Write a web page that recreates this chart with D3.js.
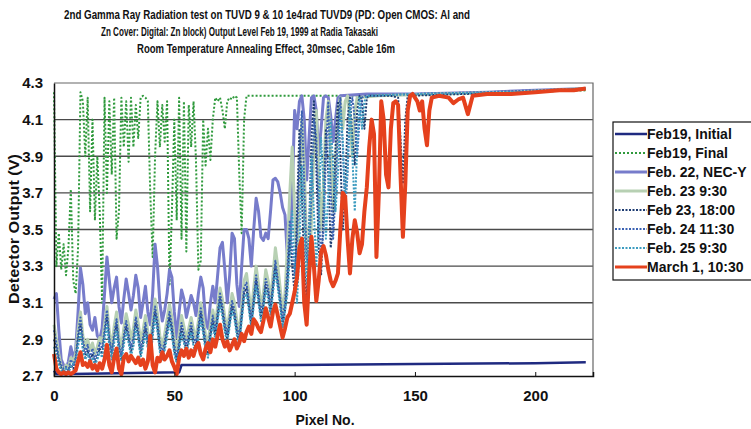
<!DOCTYPE html>
<html>
<head>
<meta charset="utf-8">
<script src="https://cdn.jsdelivr.net/npm/d3@7"></script>
<style>
  body { margin: 0; background: #fff; }
  svg text { font-family: "Liberation Sans", Arial, sans-serif; fill: #111; }
</style>
</head>
<body>
<svg id="chart" width="751" height="429"></svg>
<script>
// chart text
var titleLines = [
    "2nd Gamma Ray Radiation test on TUVD 9 & 10 1e4rad TUVD9 (PD: Open CMOS: Al and",
    "Zn Cover: Digital: Zn block) Output Level Feb 19, 1999 at Radia Takasaki",
    "Room Temperature Annealing Effect, 30msec, Cable 16m"
];
var xTicks = [0, 50, 100, 150, 200];
var yTicks = [2.7, 2.9, 3.1, 3.3, 3.5, 3.7, 3.9, 4.1, 4.3];
var seriesNames = ["Feb19, Initial", "Feb19, Final", "Feb. 22, NEC-Y", "Feb. 23 9:30",
    "Feb 23, 18:00", "Feb. 24 11:30", "Feb. 25 9:30", "March 1, 10:30"];

// dense values start at pixel 0, one per pixel; tails are [pixel, volts]
var initialDense = [2.73, 2.71];
var initialTail = [[52, 2.72], [53, 2.76], [100, 2.76], [150, 2.765], [200, 2.77], [221, 2.775]];

var finalDense = [
    4.25, 3.30, 3.48, 3.28, 3.42, 3.25, 3.40, 3.72, 3.22, 3.15,
    3.40, 4.25, 4.20, 3.90, 4.22, 3.60, 4.10, 3.55, 3.90, 3.60,
    3.10, 4.22, 3.70, 4.20, 3.80, 4.22, 3.45, 3.60, 4.22, 3.95,
    4.20, 3.87, 4.22, 3.95, 4.18, 4.00, 4.22, 4.23, 4.22, 4.20,
    3.70, 3.35, 3.90, 4.20, 3.95, 4.18, 3.98, 4.20, 3.20, 3.60,
    4.10, 3.55, 4.22, 3.45, 4.20, 3.38, 4.18, 3.95, 4.20, 3.88,
    3.28, 3.33, 4.10, 3.85, 4.05, 3.88, 4.10, 4.22, 4.20, 4.22,
    4.15, 4.05, 4.20, 4.22, 4.21, 4.23, 4.22, 3.80, 3.48, 4.10, 4.23
];
var finalTail = [[90, 4.23], [120, 4.23], [160, 4.24], [221, 4.26]];

var feb22Dense = [
    3.12, 3.15, 2.95, 2.79, 2.76, 2.74, 2.78, 2.86, 2.80, 2.84,
    3.05, 3.29, 3.20, 3.04, 3.10, 2.98, 2.95, 3.02, 2.92, 2.90,
    2.96, 3.15, 3.35, 3.22, 3.10, 3.18, 3.24, 3.08, 2.99, 3.12,
    3.23, 3.15, 3.06, 3.14, 3.25, 3.18, 3.02, 3.10, 3.19, 3.05,
    2.98, 3.15, 3.42, 3.30, 3.10, 3.00, 3.06, 3.15, 3.28, 3.24,
    3.05, 2.91, 3.05, 3.17, 3.12, 3.02, 3.08, 3.14, 3.10, 3.03,
    3.15, 3.24, 3.18, 3.00, 2.96, 3.10, 3.19, 3.10, 3.25, 3.40,
    3.43, 3.28, 3.10, 3.25, 3.48, 3.45, 3.20, 3.08, 3.30, 3.50,
    3.50, 3.45, 3.30, 3.50, 3.67, 3.60, 3.46, 3.44, 3.48, 3.45,
    3.60, 3.77, 3.78, 3.76, 3.70, 3.62, 3.58, 3.35, 3.40, 3.70,
    4.15, 4.05, 4.20, 4.23, 4.10, 3.77, 4.00, 4.22, 4.23, 4.15,
    3.91, 4.05, 4.22, 4.23, 4.22, 4.12, 3.98, 4.10, 4.22, 4.23
];
var feb22Tail = [[130, 4.24], [150, 4.24], [180, 4.25], [200, 4.26], [221, 4.27]];

var feb23amDense = [
    2.98, 2.90, 2.82, 2.75, 2.73, 2.76, 2.74, 2.80, 2.78, 2.82,
    2.95, 3.05, 2.92, 2.86, 2.90, 2.84, 2.88, 2.82, 2.86, 2.91,
    2.88, 2.98, 3.08, 2.94, 2.86, 2.97, 3.05, 2.92, 2.85, 2.96,
    3.04, 2.98, 2.90, 2.96, 3.06, 2.99, 2.89, 2.95, 3.03, 2.94,
    2.88, 3.00, 3.12, 3.04, 2.92, 2.86, 2.93, 3.01, 3.09, 3.02,
    2.90, 2.84, 2.93, 3.03, 2.97, 2.90, 2.96, 3.02, 2.95, 2.91,
    3.00, 3.10, 3.02, 2.92, 2.88, 2.98, 3.06, 2.98, 3.08, 3.18,
    3.12, 3.02, 2.95, 3.05, 3.15, 3.10, 3.00, 2.94, 3.08, 3.22,
    3.26, 3.15, 3.05, 3.18, 3.30, 3.20, 3.08, 3.15, 3.28, 3.22,
    3.12, 3.25, 3.40, 3.30, 3.18, 3.05, 3.15, 3.40, 3.70, 3.95,
    3.60, 3.30, 3.75, 4.10, 3.85, 3.40, 3.20, 3.55, 3.95, 4.15,
    3.80, 3.50, 3.75, 4.10, 4.20, 3.90, 3.60, 3.85, 4.15, 4.22,
    4.05, 4.20, 4.23, 4.10, 3.90, 4.15, 4.22
];
var feb23amTail = [[135, 4.23], [160, 4.24], [190, 4.25], [221, 4.27]];

var feb23pmDense = [
    2.90, 2.85, 2.78, 2.74, 2.72, 2.73, 2.72, 2.76, 2.74, 2.78,
    2.90, 2.98, 2.86, 2.80, 2.84, 2.78, 2.82, 2.77, 2.80, 2.85,
    2.82, 2.92, 3.02, 2.88, 2.80, 2.90, 2.98, 2.85, 2.79, 2.89,
    2.97, 2.90, 2.83, 2.88, 2.99, 2.92, 2.82, 2.88, 2.96, 2.87,
    2.80, 2.94, 3.05, 2.97, 2.85, 2.80, 2.86, 2.94, 3.02, 2.95,
    2.84, 2.78, 2.86, 2.96, 2.90, 2.84, 2.90, 2.96, 2.88, 2.85,
    2.94, 3.04, 2.95, 2.86, 2.82, 2.92, 3.00, 2.92, 3.02, 3.12,
    3.05, 2.96, 2.90, 2.99, 3.08, 3.03, 2.94, 2.88, 3.02, 3.15,
    3.18, 3.08, 2.98, 3.10, 3.22, 3.12, 3.02, 3.08, 3.20, 3.15,
    3.05, 3.18, 3.30, 3.20, 3.10, 2.98, 3.06, 3.20, 3.45, 3.30,
    3.15, 3.60, 4.05, 3.70, 3.30, 3.10, 3.50, 4.00, 4.20, 3.85,
    3.40, 3.25, 3.60, 4.05, 3.80, 3.40, 3.55, 3.95, 4.20, 3.90,
    3.50, 3.70, 4.10, 4.22, 4.00, 3.85, 4.15, 4.23, 4.20, 4.05,
    4.22, 4.23
];
var feb23pmTail = [[140, 4.23], [143, 4.22], [144, 4.00], [145, 3.75], [146, 4.10], [147, 4.23],
    [170, 4.24], [200, 4.25], [221, 4.27]];

var feb24Dense = [
    2.95, 2.88, 2.80, 2.76, 2.74, 2.75, 2.73, 2.79, 2.76, 2.80,
    2.93, 3.02, 2.90, 2.83, 2.87, 2.80, 2.85, 2.79, 2.83, 2.88,
    2.85, 2.95, 3.06, 2.91, 2.83, 2.93, 3.01, 2.88, 2.81, 2.92,
    3.00, 2.93, 2.86, 2.91, 3.02, 2.95, 2.85, 2.91, 2.99, 2.90,
    2.83, 2.97, 3.08, 3.00, 2.88, 2.83, 2.89, 2.97, 3.05, 2.98,
    2.87, 2.80, 2.89, 2.99, 2.93, 2.87, 2.93, 2.99, 2.91, 2.88,
    2.97, 3.07, 2.98, 2.89, 2.85, 2.95, 3.03, 2.95, 3.05, 3.15,
    3.08, 2.99, 2.93, 3.02, 3.11, 3.06, 2.97, 2.91, 3.05, 3.18,
    3.21, 3.11, 3.01, 3.13, 3.25, 3.15, 3.05, 3.11, 3.23, 3.18,
    3.08, 3.21, 3.33, 3.23, 3.13, 3.01, 3.10, 3.28, 3.55, 3.40,
    3.25, 3.45, 3.85, 4.15, 3.75, 3.35, 3.30, 3.70, 4.10, 4.00,
    3.60, 3.35, 3.50, 3.90, 4.20, 3.70, 3.45, 3.70, 4.05, 4.22,
    3.95, 3.60, 3.80, 4.15, 4.22, 4.10, 3.90, 4.10, 4.22, 4.23,
    4.23
];
var feb24Tail = [[150, 4.24], [180, 4.25], [221, 4.27]];

var feb25Dense = [
    2.86, 2.82, 2.76, 2.73, 2.72, 2.74, 2.72, 2.75, 2.77, 2.76,
    2.86, 2.94, 2.84, 2.79, 2.82, 2.77, 2.80, 2.76, 2.79, 2.83,
    2.80, 2.89, 2.98, 2.86, 2.79, 2.88, 2.95, 2.83, 2.78, 2.87,
    2.94, 2.88, 2.81, 2.86, 2.96, 2.90, 2.80, 2.86, 2.93, 2.85,
    2.79, 2.91, 3.02, 2.94, 2.83, 2.79, 2.84, 2.91, 2.99, 2.92,
    2.82, 2.77, 2.84, 2.93, 2.88, 2.82, 2.88, 2.94, 2.86, 2.83,
    2.91, 3.01, 2.93, 2.84, 2.80, 2.90, 2.98, 2.90, 3.00, 3.09,
    3.02, 2.94, 2.88, 2.97, 3.06, 3.01, 2.92, 2.86, 3.00, 3.12,
    3.15, 3.06, 2.96, 3.08, 3.19, 3.10, 3.00, 3.06, 3.17, 3.12,
    3.03, 3.15, 3.27, 3.18, 3.08, 2.96, 3.05, 3.15, 3.35, 3.60,
    3.30, 3.10, 3.40, 3.85, 3.55, 3.20, 3.45, 3.90, 3.60, 3.30,
    3.55, 4.00, 3.75, 3.45, 3.70, 4.10, 3.85, 3.60, 3.80, 4.15,
    4.00, 3.65, 3.85, 4.20, 3.90, 3.60, 3.95, 4.22, 4.05, 4.20,
    4.23
];
var feb25Tail = [[150, 4.24], [190, 4.25], [221, 4.27]];

var march1Dense = [
    2.82, 2.74, 2.72, 2.71, 2.72, 2.71, 2.72, 2.71, 2.72, 2.73,
    2.78, 2.83, 2.76, 2.77, 2.75, 2.78, 2.74, 2.76, 2.73, 2.77,
    2.74, 2.79, 2.87, 2.76, 2.72, 2.80, 2.85, 2.74, 2.71, 2.80,
    2.82, 2.78, 2.81, 2.79, 2.77, 2.80, 2.76, 2.79, 2.74, 2.78,
    2.92, 2.76, 2.72, 2.80, 2.78, 2.83, 2.79, 2.81, 2.84, 2.78,
    2.75, 2.71, 2.80, 2.84, 2.81, 2.85, 2.80, 2.84, 2.81, 2.86,
    2.88, 2.82, 2.79, 2.85, 2.88, 2.83, 2.90, 2.86, 2.92, 2.98,
    2.90, 2.86, 2.89, 2.84, 2.87, 2.90, 2.85, 2.88, 2.93, 2.89,
    2.94, 2.97, 2.93, 3.01, 2.99, 2.96, 2.94, 3.00, 3.07, 3.02,
    2.97, 3.05, 3.09, 3.03, 2.97, 2.91, 2.96, 3.02, 3.04, 3.10,
    3.16, 3.24, 3.40, 3.45, 3.10, 2.98, 3.25, 3.46, 3.30, 3.11,
    3.22, 3.38, 3.41, 3.36, 3.28, 3.22, 3.19, 3.22, 3.26, 3.50,
    3.70, 3.68, 3.45, 3.26, 3.45, 3.55, 3.48, 3.37, 3.42, 3.60,
    3.73, 3.95, 4.10, 4.02, 3.35, 3.70, 4.20, 4.10, 3.80, 3.73,
    4.05, 4.19, 4.20, 4.18, 3.80, 3.46, 3.75, 4.15, 4.23, 4.24,
    4.22, 4.20, 4.15, 4.20, 4.05, 3.96
];
var march1Tail = [[156, 4.15], [157, 4.22], [160, 4.23], [164, 4.22], [166, 4.19], [168, 4.21],
    [170, 4.22], [172, 4.13], [174, 4.23], [180, 4.24], [190, 4.24], [200, 4.25], [210, 4.26],
    [216, 4.26], [221, 4.27]];

var denseData = [initialDense, finalDense, feb22Dense, feb23amDense, feb23pmDense, feb24Dense, feb25Dense, march1Dense];
var tailData = [initialTail, finalTail, feb22Tail, feb23amTail, feb23pmTail, feb24Tail, feb25Tail, march1Tail];
var lineStyles = [
    { color: "#1f2a80", width: 2.5, dash: null },
    { color: "#2f9a3c", width: 2, dash: "2,2" },
    { color: "#777ccb", width: 3, dash: null },
    { color: "#b7d0b3", width: 3, dash: null },
    { color: "#1e3c72", width: 2, dash: "2,1.5" },
    { color: "#3b62b3", width: 2, dash: "2,1.5" },
    { color: "#3d9cc0", width: 2, dash: "2,1.5" },
    { color: "#e5411d", width: 4, dash: null }
];

var svg = d3.select("#chart"),
    x = d3.scaleLinear().domain([0, 224]).range([54, 593]),
    y = d3.scaleLinear().domain([2.7, 4.3]).range([376, 83]);

// title
svg.selectAll(".title")
    .data(titleLines)
    .enter()
    .append("text")
    .attr("x", function (d, i) { return [64, 101, 137][i]; })
    .attr("y", function (d, i) { return [19, 36, 53][i]; })
    .attr("textLength", function (d, i) { return [406, 277, 258][i]; })
    .attr("lengthAdjust", "spacingAndGlyphs")
    .style("font-family", "'Liberation Sans Narrow', 'Liberation Sans', Arial, sans-serif")
    .style("font-size", "12.5px")
    .style("font-weight", "bold")
    .text(function (d) { return d; });

// grid
svg.append("g")
    .selectAll("line")
    .data(yTicks.slice(1, -1))
    .enter()
    .append("line")
    .attr("x1", x(0)).attr("x2", x(224))
    .attr("y1", function (d) { return y(d); })
    .attr("y2", function (d) { return y(d); })
    .attr("stroke", "#4a4a4a")
    .attr("stroke-width", 1.3);

// plot frame top / right
svg.append("path")
    .attr("d", "M" + x(0) + "," + y(4.3) + "H" + x(224) + "V" + y(2.7))
    .attr("fill", "none")
    .attr("stroke", "#666")
    .attr("stroke-width", 1.2);

// series
var line = d3.line()
    .x(function (d) { return x(d[0]); })
    .y(function (d) { return y(d[1]); });

denseData.forEach(function (vals, i) {
    var pts = vals.map(function (v, k) { return [k, v]; }).concat(tailData[i]),
        st = lineStyles[i];
    svg.append("path")
        .datum(pts)
        .attr("d", line)
        .attr("fill", "none")
        .attr("stroke", st.color)
        .attr("stroke-width", st.width)
        .attr("stroke-linejoin", "round")
        .attr("stroke-dasharray", st.dash);
});

// axes
var xAxis = svg.append("g")
    .attr("transform", "translate(0," + y(2.7) + ")")
    .call(d3.axisBottom(x).tickValues(xTicks).tickSize(-4).tickPadding(14));
var yAxis = svg.append("g")
    .attr("transform", "translate(" + x(0) + ",0)")
    .call(d3.axisLeft(y).tickValues(yTicks).tickFormat(d3.format(".1f")).tickSize(0).tickPadding(11));

[xAxis, yAxis].forEach(function (g) {
    g.select(".domain").attr("stroke", "#111").attr("stroke-width", 1.5);
    g.selectAll("text")
        .style("font-size", "15px")
        .style("font-weight", "bold")
        .style("font-family", "'Liberation Sans', Arial, sans-serif")
        .attr("fill", "#111");
});
xAxis.selectAll(".tick line").attr("stroke", "#111");

svg.append("text")
    .attr("x", 325)
    .attr("y", 425)
    .attr("text-anchor", "middle")
    .style("font-size", "14px")
    .style("font-weight", "bold")
    .text("Pixel No.");

svg.append("text")
    .attr("transform", "translate(19,229) rotate(-90)")
    .attr("text-anchor", "middle")
    .attr("textLength", 150)
    .attr("lengthAdjust", "spacingAndGlyphs")
    .style("font-size", "14px")
    .style("font-weight", "bold")
    .text("Detector Output (V)");

// legend
var legend = svg.append("g");
legend.append("rect")
    .attr("x", 613).attr("y", 122)
    .attr("width", 150).attr("height", 158)
    .attr("fill", "#fff")
    .attr("stroke", "#111")
    .attr("stroke-width", 1.2);

var items = legend.selectAll(".item")
    .data(seriesNames)
    .enter()
    .append("g")
    .attr("transform", function (d, i) { return "translate(0," + (134 + i * 19) + ")"; });

items.append("line")
    .attr("x1", 615).attr("x2", 647)
    .attr("stroke", function (d, i) { return lineStyles[i].color; })
    .attr("stroke-width", function (d, i) { return Math.min(lineStyles[i].width, 3); })
    .attr("stroke-dasharray", function (d, i) { return lineStyles[i].dash; });

items.append("text")
    .attr("x", 647)
    .attr("dy", "0.36em")
    .style("font-size", "14px")
    .style("font-weight", "bold")
    .text(function (d) { return d; });
</script>
</body>
</html>
